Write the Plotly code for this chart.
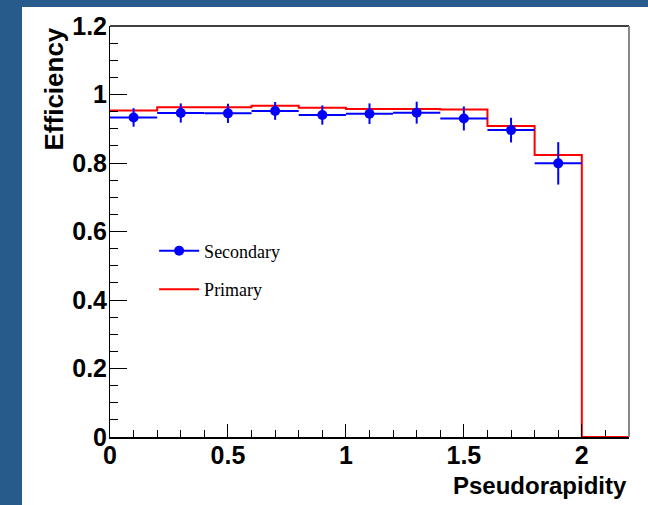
import plotly.graph_objects as go

# ---- data ----
bin_edges = [0.0, 0.2, 0.4, 0.6, 0.8, 1.0, 1.2, 1.4, 1.6, 1.8, 2.0, 2.2]
primary_eff = [0.953, 0.963, 0.963, 0.967, 0.961, 0.958, 0.958, 0.956, 0.908, 0.823, 0.0]
sec_centers = [0.1, 0.3, 0.5, 0.7, 0.9, 1.1, 1.3, 1.5, 1.7, 1.9]
sec_eff = [0.933, 0.946, 0.945, 0.952, 0.940, 0.944, 0.947, 0.930, 0.896, 0.799]
sec_err = [0.027, 0.028, 0.028, 0.026, 0.028, 0.030, 0.032, 0.035, 0.036, 0.062]
sec_xerr = [0.1] * len(sec_centers)

x_ticks = [0, 0.5, 1, 1.5, 2]
x_ticklabels = ["0", "0.5", "1", "1.5", "2"]
y_ticks = [0, 0.2, 0.4, 0.6, 0.8, 1.0, 1.2]
y_ticklabels = ["0", "0.2", "0.4", "0.6", "0.8", "1", "1.2"]

BLUE = "#0000ff"
RED = "#ff0000"
BG = "#265b8b"
LABEL_FONT = dict(family="Liberation Sans, Arial, sans-serif", size=25, color="black", weight="bold")

PW, PH = 519, 411  # plot area size in px

fig = go.Figure()

# Primary step histogram
fig.add_trace(go.Scatter(
    x=bin_edges, y=primary_eff + [primary_eff[-1]],
    mode="lines", line=dict(color=RED, width=2, shape="hv"),
    showlegend=False, cliponaxis=False, hoverinfo="skip",
))

# Secondary points with errors
fig.add_trace(go.Scatter(
    x=sec_centers, y=sec_eff, mode="markers",
    marker=dict(color=BLUE, size=10, symbol="circle"),
    error_y=dict(type="data", array=sec_err, color=BLUE, thickness=2, width=0),
    error_x=dict(type="data", array=sec_xerr, color=BLUE, thickness=2, width=0),
    showlegend=False,
))

# Legend entries
fig.add_trace(go.Scatter(
    x=[None], y=[None], mode="lines+markers", name="Secondary",
    line=dict(color=BLUE, width=2), marker=dict(color=BLUE, size=10),
    legendgroup="a",
))
fig.add_trace(go.Scatter(
    x=[None], y=[None], mode="lines", name="Primary",
    line=dict(color=RED, width=2), legendgroup="b",
))

fig.update_layout(
    width=648, height=505,
    paper_bgcolor="white", plot_bgcolor="white",
    margin=dict(l=110, r=19, t=26, b=68),
    showlegend=True,
    legend=dict(x=0.085, y=0.406, xanchor="left", yanchor="middle",
                bgcolor="rgba(0,0,0,0)",
                font=dict(family="Liberation Serif, Times New Roman, serif", size=18, color="black"),
                tracegroupgap=12, itemwidth=40, traceorder="grouped"),
    xaxis=dict(range=[0, 2.2], tickvals=x_ticks, ticktext=x_ticklabels,
               ticks="inside", ticklen=13, tickwidth=1, tickcolor="black",
               showline=True, linecolor="black", linewidth=2, mirror=False,
               showgrid=False, zeroline=False, tickfont=LABEL_FONT, ticklabelstandoff=-5,
               minor=dict(dtick=0.1, tick0=0, ticks="inside", ticklen=7, tickcolor="black", showgrid=False)),
    yaxis=dict(range=[0, 1.2], tickvals=y_ticks, ticktext=y_ticklabels,
               ticks="inside", ticklen=17, tickwidth=1, tickcolor="black",
               showline=True, linecolor="black", linewidth=1,
               showgrid=False, zeroline=False, tickfont=LABEL_FONT, ticklabelstandoff=-3,
               minor=dict(dtick=0.05, tick0=0, ticks="inside", ticklen=8, tickcolor="black", showgrid=False)),
    annotations=[
        dict(text="<b>Pseudorapidity</b>", xref="paper", yref="paper", x=1.0, y=-0.08,
             xanchor="right", yanchor="top", showarrow=False,
             font=dict(family="Liberation Sans, Arial, sans-serif", size=24, color="black")),
        dict(text="<b>Efficiency</b>", xref="paper", yref="paper", x=-57 / PW, y=1.0,
             xanchor="center", yanchor="top", textangle=-90, showarrow=False,
             font=dict(family="Liberation Sans, Arial, sans-serif", size=26, color="black")),
    ],
    shapes=[
        # blue frame strips (left and top)
        dict(type="rect", xref="paper", yref="paper", x0=-110 / PW, x1=-88 / PW,
             y0=-68 / PH, y1=1 + 26 / PH, fillcolor=BG, line_width=0, layer="above"),
        dict(type="rect", xref="paper", yref="paper", x0=-110 / PW, x1=1 + 19 / PW,
             y0=1 + 19 / PH, y1=1 + 26 / PH, fillcolor=BG, line_width=0, layer="above"),
        # top frame line
        dict(type="line", xref="paper", yref="paper", x0=0, x1=1, y0=1, y1=1,
             line=dict(color="black", width=1.5)),
        # right frame line
        dict(type="line", xref="paper", yref="paper", x0=1, x1=1, y0=0, y1=1,
             line=dict(color="#888888", width=2)),
    ],
)

fig.write_html("out.html")
